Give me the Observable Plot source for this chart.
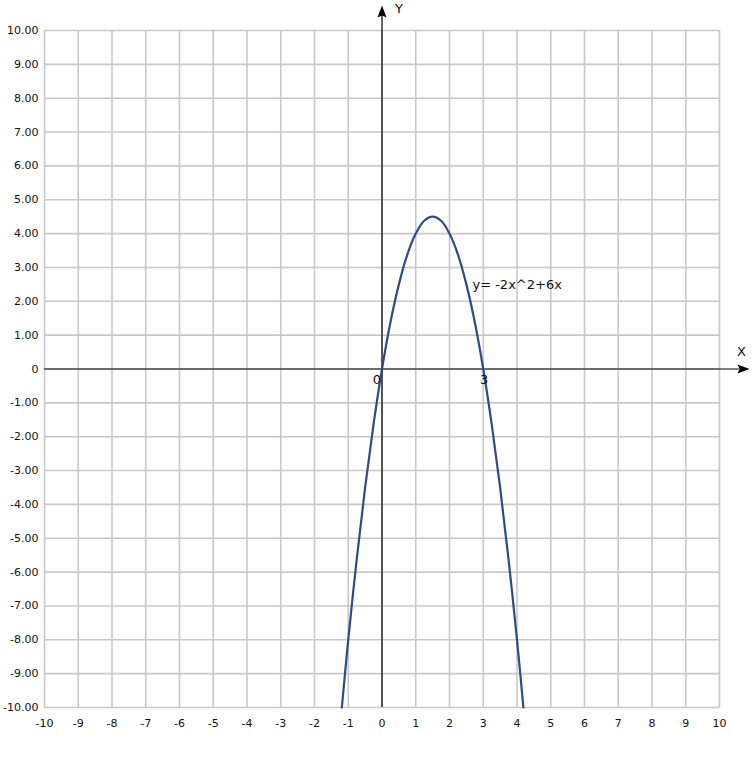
<!DOCTYPE html>
<html>
<head>
<meta charset="utf-8">
<script src="https://cdn.jsdelivr.net/npm/d3@7"></script>
<script src="https://cdn.jsdelivr.net/npm/@observablehq/plot@0.6"></script>
<style>
  html, body { margin: 0; padding: 0; background: #fff; }
</style>
</head>
<body>
<div id="chart"></div>
<script>
// ---- data ----
const xTicks = [-10, -9, -8, -7, -6, -5, -4, -3, -2, -1, 0, 1, 2, 3, 4, 5, 6, 7, 8, 9, 10];
const yTicks = [10, 9, 8, 7, 6, 5, 4, 3, 2, 1, 0, -1, -2, -3, -4, -5, -6, -7, -8, -9, -10];
const yTickLabels = ["10.00", "9.00", "8.00", "7.00", "6.00", "5.00", "4.00", "3.00", "2.00", "1.00", "0",
  "-1.00", "-2.00", "-3.00", "-4.00", "-5.00", "-6.00", "-7.00", "-8.00", "-9.00", "-10.00"];

const curveX = [-1.19, -1, -0.75, -0.5, -0.25, 0, 0.25, 0.5, 0.75, 1, 1.25, 1.5, 1.75, 2, 2.25, 2.5, 2.75, 3, 3.25, 3.5, 3.75, 4, 4.19];
const curveY = [-10, -8, -5.63, -3.5, -1.63, 0, 1.38, 2.5, 3.38, 4, 4.38, 4.5, 4.38, 4, 3.38, 2.5, 1.38, 0, -1.63, -3.5, -5.63, -8, -10];

const rootX = [0, 3];
const rootLabels = ["0", "3"];

const equationText = "y= -2x^2+6x";
const equationX = 2.68;
const equationY = 2.48;

const axisMin = -10;
const yArrowTip = 10.74;
const xArrowTip = 10.89;

// ---- derived tables ----
const curve = curveX.map((x, i) => ({x, y: curveY[i]}));
const roots = rootX.map((x, i) => ({x, y: 0, label: rootLabels[i]}));
const yLabelMap = new Map(yTicks.map((t, i) => [t, yTickLabels[i]]));

const arrowSymbol = {
  draw(context) {
    context.moveTo(0, 0);
    context.lineTo(-4.5, 12);
    context.lineTo(0, 10);
    context.lineTo(4.5, 12);
    context.closePath();
  }
};

const chart = Plot.plot({
  width: 756,
  height: 759,
  marginLeft: 44,
  marginRight: 37,
  marginTop: 30,
  marginBottom: 52,
  style: {fontFamily: "DejaVu Sans", fontSize: "11px", background: "#fff", color: "#111"},
  x: {domain: [-10, 10], ticks: xTicks},
  y: {domain: [-10, 10], ticks: yTicks},
  marks: [
    Plot.gridX(xTicks, {stroke: "#c8c8c8", strokeOpacity: 1, strokeWidth: 1.6}),
    Plot.gridY(yTicks, {stroke: "#c8c8c8", strokeOpacity: 1, strokeWidth: 1.6}),
    Plot.axisY(yTicks, {tickSize: 0, tickPadding: 6, tickFormat: d => yLabelMap.get(d), label: null}),
    Plot.axisX(xTicks, {tickSize: 0, tickPadding: 12, tickFormat: d => String(d), label: null}),
    // coordinate axes
    Plot.ruleX([0], {y1: axisMin, y2: yArrowTip - 0.3, stroke: "#000", strokeWidth: 1.2}),
    Plot.ruleY([0], {x1: axisMin, x2: xArrowTip - 0.3, stroke: "#000", strokeWidth: 1.2}),
    Plot.dot([{x: 0, y: yArrowTip}], {x: "x", y: "y", symbol: arrowSymbol, fill: "#000", stroke: "none", r: 5}),
    Plot.dot([{x: xArrowTip, y: 0}], {x: "x", y: "y", symbol: arrowSymbol, fill: "#000", stroke: "none", r: 5, rotate: 90}),
    Plot.text([{x: 0, y: yArrowTip, t: "Y"}], {x: "x", y: "y", text: "t", dx: 17, dy: 3, fontSize: 13, fill: "#111"}),
    Plot.text([{x: xArrowTip, y: 0, t: "X"}], {x: "x", y: "y", text: "t", dx: -8, dy: -17, fontSize: 13, fill: "#111"}),
    // curve
    Plot.line(curve, {x: "x", y: "y", curve: "catmull-rom", stroke: "#2c4a8c", strokeWidth: 2.2}),
    // root labels
    Plot.text(roots.slice(0, 1), {x: "x", y: "y", text: "label", dx: -5, dy: 11, fontSize: 13, fill: "#111"}),
    Plot.text(roots.slice(1), {x: "x", y: "y", text: "label", dx: 1, dy: 11, fontSize: 13, fill: "#111"}),
    Plot.text([{x: equationX, y: equationY, t: equationText}], {x: "x", y: "y", text: "t", textAnchor: "start", fontSize: 13, fill: "#111"})
  ]
});

document.getElementById("chart").appendChild(chart);
</script>
</body>
</html>
